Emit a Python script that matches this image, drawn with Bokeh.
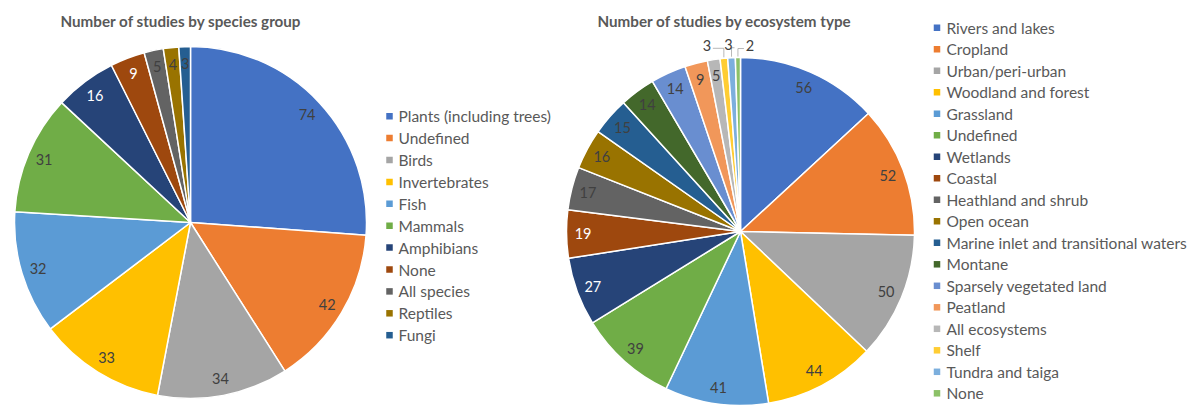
import numpy as np
from bokeh.plotting import figure
from bokeh.models import Range1d
from bokeh.core.properties import value
from bokeh.embed import file_html
from bokeh.resources import INLINE

# ---- data -------------------------------------------------------------
species_groups = ["Plants (including trees)", "Undefined", "Birds", "Invertebrates",
                  "Fish", "Mammals", "Amphibians", "None", "All species",
                  "Reptiles", "Fungi"]
species_counts = [74, 42, 34, 33, 32, 31, 16, 9, 5, 4, 3]

ecosystems = ["Rivers and lakes", "Cropland", "Urban/peri-urban", "Woodland and forest",
              "Grassland", "Undefined", "Wetlands", "Coastal", "Heathland and shrub",
              "Open ocean", "Marine inlet and transitional waters", "Montane",
              "Sparsely vegetated land", "Peatland", "All ecosystems", "Shelf",
              "Tundra and taiga", "None"]
ecosystem_counts = [56, 52, 50, 44, 41, 39, 27, 19, 17, 16, 15, 14, 14, 9, 5, 3, 3, 2]

office_palette = ["#4472C4", "#ED7D31", "#A5A5A5", "#FFC000", "#5B9BD5", "#70AD47",
                  "#264478", "#9E480E", "#636363", "#997300", "#255E91", "#43682B",
                  "#698ED0", "#F1975A", "#B7B7B7", "#FFCD33", "#7CAFDD", "#8CC168"]

# slices whose value label is printed in white
light_label_species = {"Amphibians", "None"}
light_label_ecosystems = {"Wetlands", "Coastal"}

# ---- canvas -----------------------------------------------------------
W, H = 1197, 413
FONT = value("Lato")
TXT = "#595959"
LBL = "#404040"

p = figure(width=W, height=H, x_range=Range1d(0, W), y_range=Range1d(0, H),
           output_backend="svg", toolbar_location=None, min_border=0,
           x_axis_type=None, y_axis_type=None)
p.grid.visible = False
p.outline_line_color = None
p.background_fill_color = "white"
p.border_fill_color = "white"


def Y(y_img):
    """screen-style y (from top) to data y (from bottom)"""
    return H - y_img


def draw_pie(cx, cy, r, names, counts, light, outside=None):
    counts = np.asarray(counts, dtype=float)
    total = counts.sum()
    cum = np.concatenate([[0], np.cumsum(counts)])
    start = np.pi / 2 - 2 * np.pi * cum[:-1] / total
    end = np.pi / 2 - 2 * np.pi * cum[1:] / total
    colors = office_palette[:len(counts)]
    p.wedge(x=cx, y=Y(cy), radius=r, start_angle=start, end_angle=end,
            direction="clock", fill_color=colors, line_color="white", line_width=1.5)

    mid = (start + end) / 2
    outside = outside or {}
    xs, ys, texts, tcols = [], [], [], []
    for i, n in enumerate(names):
        t = str(int(counts[i]))
        if n in outside:
            # label placed above the pie with a leader line to the slice
            ex = cx + r * np.cos(mid[i])
            ey = Y(cy) + r * np.sin(mid[i])
            dx, dy = outside[n]
            lx, ly = ex + dx, ey + dy
            xs.append(lx); ys.append(ly); texts.append(t); tcols.append(LBL)
            side = 6 if dx < 0 else -6
            p.line(x=[lx + side, ex, ex], y=[ly - 3, ly - 3, ey + 1],
                   line_color="#A6A6A6", line_width=0.8)
            continue
        rr = 0.905 * r
        xs.append(cx + rr * np.cos(mid[i]))
        ys.append(Y(cy) + rr * np.sin(mid[i]))
        texts.append(t)
        tcols.append("white" if n in light else LBL)
    p.text(x=xs, y=ys, text=texts, text_align="center", text_baseline="middle",
           text_font=FONT, text_font_size="14.5px", text_color=tcols)


def draw_legend(sq_x, txt_x, y0, step, names):
    ys = [Y(y0 + i * step) for i in range(len(names))]
    p.scatter(x=[sq_x] * len(names), y=ys, marker="square", size=6.5,
              fill_color=office_palette[:len(names)], line_color=None)
    p.text(x=[txt_x] * len(names), y=ys, text=names, text_baseline="middle",
           text_font=FONT, text_font_size="15.5px", text_color=TXT)


def draw_title(x, y, s):
    p.text(x=[x], y=[Y(y)], text=[s], text_baseline="middle", text_font=FONT,
           text_font_style="bold", text_font_size="15.2px", text_color=TXT)


# left: species groups
draw_title(60, 20, "Number of studies by species group")
draw_pie(190, 222, 176, species_groups, species_counts, light_label_species)
draw_legend(389, 398, 115.7, 21.9, species_groups)

# right: ecosystem types
draw_title(597, 20, "Number of studies by ecosystem type")
draw_pie(740, 231, 174, ecosystems, ecosystem_counts, light_label_ecosystems,
         outside={"Shelf": (-17, 13), "Tundra and taiga": (-3, 13), "None": (12, 12)})
draw_legend(936.5, 946, 27.3, 21.5, ecosystems)

open("out.html", "w").write(file_html(p, INLINE))
